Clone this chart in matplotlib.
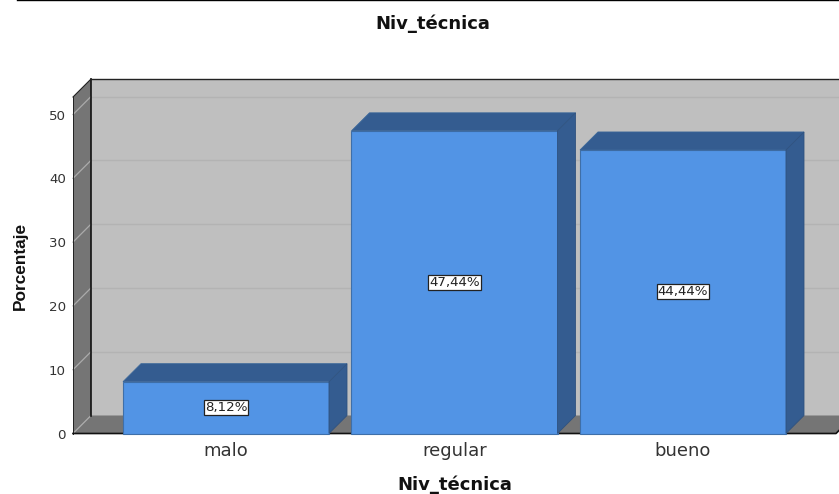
import matplotlib
matplotlib.use("Agg")
import matplotlib.pyplot as plt
from matplotlib.patches import Polygon
from matplotlib.lines import Line2D

categories = ["malo", "regular", "bueno"]
values = [8.12, 47.44, 44.44]
value_labels = ["8,12%", "47,44%", "44,44%"]
y_ticks = [0, 10, 20, 30, 40, 50]

W, H = 839, 494
plt.rcParams["font.family"] = ["DejaVu Sans"]
fig = plt.figure(figsize=(W / 100, H / 100), dpi=100, facecolor="white")
L, R, T, B = 73, 836, 97, 433.5
ax = fig.add_axes([L / W, 1 - B / H, (R - L) / W, (B - T) / H])
ax.patch.set_visible(False)
px_per_cat = 228.5
px_per_unit = 6.38
x0, x1 = -(226 - L) / px_per_cat, (R - 226) / px_per_cat
y1 = (B - T) / px_per_unit
ax.set_xlim(x0, x1)
ax.set_ylim(0, y1)
dx, dy = 18 / px_per_cat, 18 / px_per_unit
bw = 206 / px_per_cat


def poly(pts, fc, ec="none", lw=0, z=1):
    ax.add_patch(Polygon(pts, closed=True, facecolor=fc, edgecolor=ec, linewidth=lw,
                         zorder=z, clip_on=False))


# walls
poly([(x0 + dx, dy), (x1 + dx, dy), (x1 + dx, y1 + dy), (x0 + dx, y1 + dy)], "#BFBFBF", z=1)
poly([(x0, 0), (x0 + dx, dy), (x1 + dx, dy), (x1, 0)], "#757575", z=1)
poly([(x0, 0), (x0, y1), (x0 + dx, y1 + dy), (x0 + dx, dy)], "#757575", z=1)

# gridlines
for t in y_ticks[1:]:
    ax.plot([x0 + dx, x1 + dx], [t + dy, t + dy], color="#B3B3B3", lw=1.0, zorder=2, clip_on=False)
for t in y_ticks:
    ax.plot([x0, x0 + dx], [t, t + dy], color="#ABABAB", lw=0.9, zorder=2, clip_on=False)

# frame
ax.plot([x0 + dx, x0 + dx], [dy, y1 + dy], color="#111111", lw=1.2, zorder=3, clip_on=False)
ax.plot([x0 + dx, x1 + dx], [y1 + dy, y1 + dy], color="#222222", lw=1.0, zorder=3, clip_on=False)
ax.plot([x0, x0], [0, y1], color="#222222", lw=0.7, zorder=3, clip_on=False)
ax.plot([x0, x0 + dx], [y1, y1 + dy], color="#222222", lw=0.8, zorder=3, clip_on=False)
ax.plot([x0, x1, x1 + dx], [0, 0, dy], color="#111111", lw=1.2, zorder=3, clip_on=False)

# bars
for i, v in enumerate(values):
    a, b = i - bw / 2, i + bw / 2
    z = 4 + i
    poly([(a, 0), (b, 0), (b, v), (a, v)], "#5294E5", "#3F6FA8", 0.8, z)
    poly([(a, v), (a + dx, v + dy), (b + dx, v + dy), (b, v)], "#345C90", "#3A6699", 0.6, z)
    poly([(b, 0), (b + dx, dy), (b + dx, v + dy), (b, v)], "#345C90", "#2F527F", 0.6, z)
    ax.text(i, v / 2, value_labels[i], ha="center", va="center", fontsize=9.6, color="#222222",
            zorder=10, bbox=dict(boxstyle="square,pad=0.08", fc="white", ec="#222222", lw=0.9))

ax.set_xticks(range(len(categories)), categories)
ax.set_yticks(y_ticks)
ax.tick_params(axis="x", length=0, pad=6, labelsize=13, labelcolor="#333333")
ax.tick_params(axis="y", length=0, pad=5, labelsize=9.6, labelcolor="#333333")
for s in ax.spines.values():
    s.set_visible(False)
ax.set_xlabel("Niv_técnica", fontsize=13, fontweight="bold", color="#111111", labelpad=11.5)
fig.text(433 / W, 1 - 24 / H, "Niv_técnica", ha="center", va="center", fontsize=13,
         fontweight="bold", color="#111111")
fig.text(20 / W, 1 - 266 / H, "Porcentaje", ha="center", va="center", rotation=90, fontsize=12.4,
         fontweight="bold", color="#111111", family=["Liberation Sans"])
fig.add_artist(Line2D([17 / W, 1], [1 - 0.5 / H, 1 - 0.5 / H], color="black", lw=1.0,
                      transform=fig.transFigure))
fig.savefig("out.png", dpi=100)
